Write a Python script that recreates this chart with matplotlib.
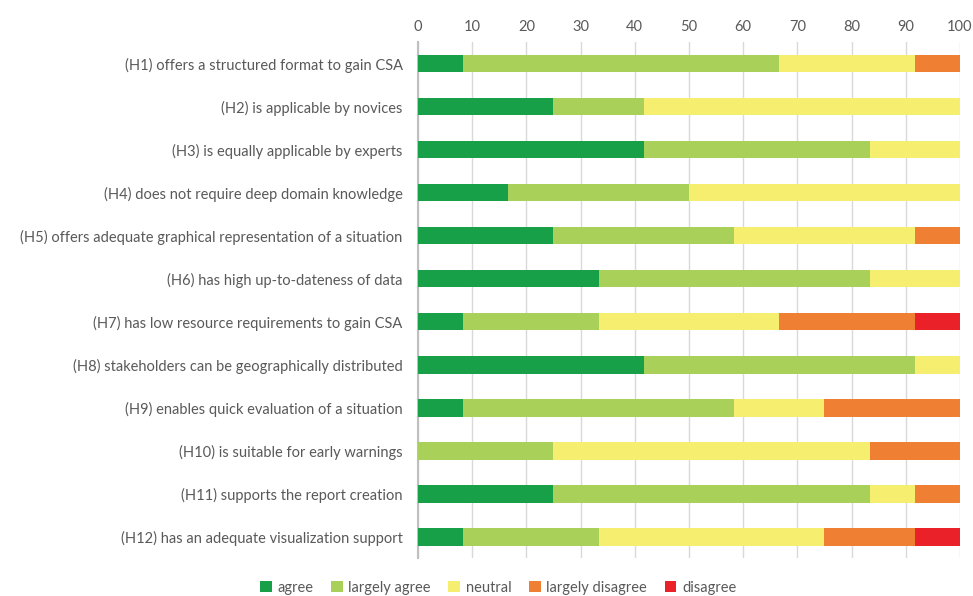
import matplotlib.pyplot as plt
import numpy as np

plt.rcParams['font.family'] = ['Lato', 'DejaVu Sans']

labels = [
    "(H1) offers a structured format to gain CSA",
    "(H2) is applicable by novices",
    "(H3) is equally applicable by experts",
    "(H4) does not require deep domain knowledge",
    "(H5) offers adequate graphical representation of a situation",
    "(H6) has high up-to-dateness of data",
    "(H7) has low resource requirements to gain CSA",
    "(H8) stakeholders can be geographically distributed",
    "(H9) enables quick evaluation of a situation",
    "(H10) is suitable for early warnings",
    "(H11) supports the report creation",
    "(H12) has an adequate visualization support",
]

# percentages (12 respondents)
agree = [8.33, 25, 41.67, 16.67, 25, 33.33, 8.33, 41.67, 8.33, 0, 25, 8.33]
largely_agree = [58.33, 16.67, 41.67, 33.33, 33.33, 50, 25, 50, 50, 25, 58.33, 25]
neutral = [25, 58.33, 16.67, 50, 33.33, 16.67, 33.33, 8.33, 16.67, 58.33, 8.33, 41.67]
largely_disagree = [8.33, 0, 0, 0, 8.33, 0, 25, 0, 25, 16.67, 8.33, 16.67]
disagree = [0, 0, 0, 0, 0, 0, 8.33, 0, 0, 0, 0, 8.33]

series = [
    ("agree", agree, "#18a048"),
    ("largely agree", largely_agree, "#a9d15a"),
    ("neutral", neutral, "#f6ee6e"),
    ("largely disagree", largely_disagree, "#ee7f33"),
    ("disagree", disagree, "#ea2128"),
]

fig = plt.figure(figsize=(9.73, 5.96), dpi=100)
ax = fig.add_axes([0.4296, 0.063, 0.557, 0.866])

y = np.arange(len(labels))
left = np.zeros(len(labels))
for name, vals, col in series:
    vals = np.array(vals)
    ax.barh(y, vals, left=left, height=0.4, color=col, label=name, zorder=3)
    left += vals

ax.set_xlim(0, 100)
ax.set_ylim(len(labels) - 0.5, -0.5)
ax.set_yticks(y)
ax.set_yticklabels(labels)
ax.set_xticks(range(0, 101, 10))
ax.xaxis.tick_top()
ax.tick_params(axis='both', length=0, labelsize=10.5, colors='#595959')
ax.tick_params(axis='y', pad=11)
ax.tick_params(axis='x', pad=6)
ax.grid(axis='x', color='#d9d9d9', linewidth=1, zorder=0)
for s in ['top', 'right', 'bottom']:
    ax.spines[s].set_visible(False)
ax.spines['left'].set_color('#bfbfbf')
ax.spines['left'].set_linewidth(1.5)

fig.legend(loc='lower center', bbox_to_anchor=(0.512, -0.02), ncol=5, frameon=False,
           fontsize=10.5, labelcolor='#595959', handlelength=0.8, handleheight=0.8,
           handletextpad=0.4, columnspacing=1.2)

fig.savefig("out.png", dpi=100)
